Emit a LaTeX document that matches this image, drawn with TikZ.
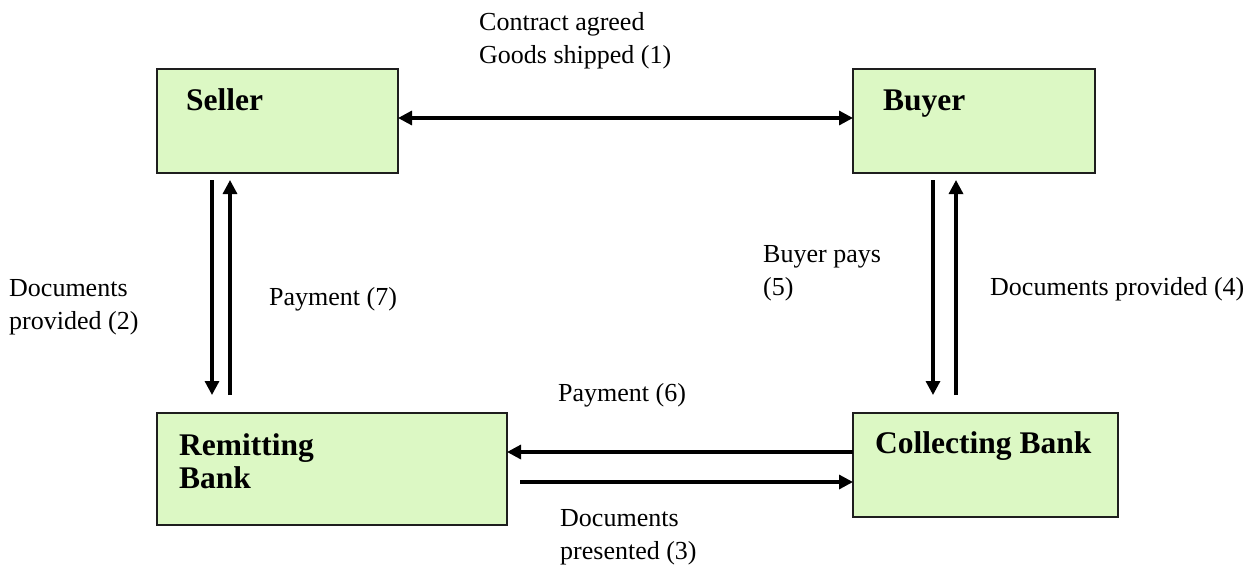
\documentclass[tikz,border=0pt]{standalone}
\usepackage{fontspec}
\setmainfont{Liberation Serif}
\usetikzlibrary{arrows.meta,calc}
\definecolor{boxfill}{RGB}{220,248,196}
\definecolor{boxline}{RGB}{30,30,30}
\begin{document}
\begin{tikzpicture}[x=1pt,y=-1pt,
  box/.style={draw=boxline,line width=1.6pt,fill=boxfill,inner sep=0pt,outer sep=0pt},
  title/.style={anchor=base west,inner sep=0pt,font=\fontsize{31.5}{33}\selectfont\bfseries,align=left},
  lbl/.style={anchor=base west,inner sep=0pt,font=\fontsize{26}{33}\selectfont,align=left},
  arr/.style={line width=3.2pt,-{Triangle[length=14pt,width=14pt]}},
  darr/.style={line width=3.2pt,{Triangle[length=14pt,width=14pt]}-{Triangle[length=14pt,width=14pt]}}]
\useasboundingbox (0,0) rectangle (1252,566);
% boxes
\node[box,minimum width=241,minimum height=104] (seller) at (277.5,121) {};
\node[box,minimum width=242,minimum height=104] (buyer) at (974,121) {};
\node[box,minimum width=350,minimum height=112] (remit) at (332,469) {};
\node[box,minimum width=265,minimum height=104] (collect) at (985.5,465) {};
% titles
\node[title] (tseller) at (186,110) {Seller};
\node[title] (tbuyer) at (883,110) {Buyer};
\node[title] (tremit) at (179,488) {Remitting\\Bank};
\node[title] (tcollect) at (875,453) {Collecting Bank};
% connectors
\draw[darr] ([yshift=3pt]seller.east) -- ([yshift=3pt]buyer.west);
\draw[arr] ($(seller.south west)+(55,7)$) -- ($(remit.north west)+(55,-18)$);
\draw[arr] ($(remit.north west)+(73,-18)$) -- ($(seller.south west)+(73,7)$);
\draw[arr] ($(buyer.south west)+(80,7)$) -- ($(collect.north west)+(80,-18)$);
\draw[arr] ($(collect.north west)+(103,-18)$) -- ($(buyer.south west)+(103,7)$);
\draw[arr] ($(collect.north west)+(0,39)$) coordinate (p6) -- (p6 -| remit.east);
\draw[arr] ($(remit.north east)+(13,69)$) coordinate (d3) -- (d3 -| collect.west);
% labels
\node[lbl] (l1) at (479,63) {Contract agreed\\Goods shipped (1)};
\node[lbl] (l2) at (9,329) {Documents\\provided (2)};
\node[lbl] (l7) at (269,305) {Payment (7)};
\node[lbl] (l5) at (763,295) {Buyer pays\\(5)};
\node[lbl] (l4) at (990,295) {Documents provided (4)};
\node[lbl] (l6) at (558,401) {Payment (6)};
\node[lbl] (l3) at (560,559) {Documents\\presented (3)};
\end{tikzpicture}
\end{document}
